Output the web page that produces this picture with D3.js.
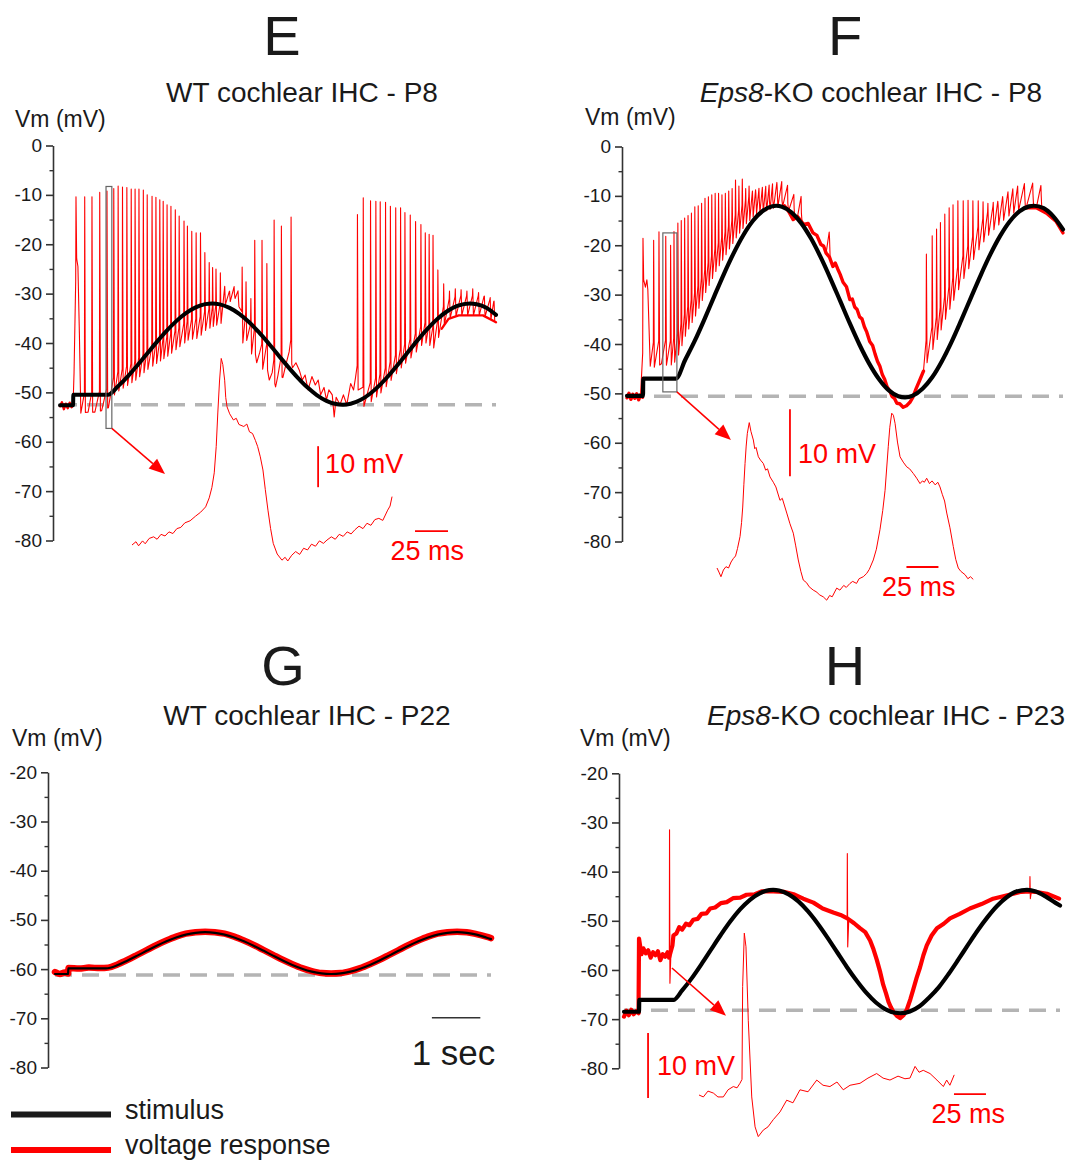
<!DOCTYPE html>
<html><head><meta charset="utf-8">
<script src="https://cdn.jsdelivr.net/npm/d3@7"></script>
<style>
body{margin:0;background:#fff}
svg{display:block}
text{font-family:"Liberation Sans",Arial,Helvetica,sans-serif}
</style>
</head><body>
<svg id="chart" width="1072" height="1160"></svg>
<script>
// ---------------- DATA ----------------
const panelLetters = ["E","F","G","H"];
const panelTitles = [
  ["", "WT cochlear IHC - P8"],
  ["Eps8", "-KO cochlear IHC - P8"],
  ["", "WT cochlear IHC - P22"],
  ["Eps8", "-KO cochlear IHC - P23"]
];
const yLabel = "Vm (mV)";
const ticksP8 = [0,-10,-20,-30,-40,-50,-60,-70,-80];
const minorP8 = [-5,-15,-25,-35,-45,-55,-65,-75];
const ticksAdult = [-20,-30,-40,-50,-60,-70,-80];
const minorAdult = [-25,-35,-45,-55,-65,-75];
const baselineV = [-52.5,-50.6,-61.2,-68.2];   // dashed resting lines (mV)
const timeSpan = [0, 9];                        // s

// stimulus (black) [time s, mV]
const stimE = [[0,-52.6],[0.27,-52.6],[0.275,-50.5],[0.99,-50.5],[1.2,-48.74],[1.4,-46.75],[1.6,-44.5],[1.8,-42.13],[2.0,-39.77],[2.2,-37.55],[2.4,-35.57],[2.6,-33.96],[2.8,-32.79],[3.0,-32.13],[3.14,-32.0],[3.3,-32.17],[3.5,-32.89],[3.7,-34.1],[3.9,-35.75],[4.1,-37.76],[4.3,-40.01],[4.5,-42.37],[4.7,-44.73],[4.9,-46.95],[5.1,-48.93],[5.3,-50.54],[5.5,-51.71],[5.7,-52.37],[5.84,-52.5],[6.0,-52.31],[6.2,-51.56],[6.4,-50.28],[6.6,-48.53],[6.8,-46.43],[7.0,-44.09],[7.2,-41.64],[7.4,-39.22],[7.6,-37.0],[7.8,-35.05],[8.0,-33.52],[8.2,-32.49],[8.46,-32.0],[8.6,-32.14],[8.8,-32.84],[9.0,-34.3]];
const stimF = [[0,-50.5],[0.33,-50.5],[0.335,-47.0],[1.01,-47.0],[1.2,-43.25],[1.4,-39.33],[1.6,-34.95],[1.8,-30.35],[2.0,-25.83],[2.2,-21.64],[2.4,-17.97],[2.6,-15.05],[2.8,-13.07],[3.0,-12.1],[3.08,-12.0],[3.2,-12.19],[3.4,-13.38],[3.6,-15.57],[3.8,-18.65],[4.0,-22.46],[4.2,-26.74],[4.4,-31.28],[4.6,-35.84],[4.8,-40.15],[5.0,-43.97],[5.2,-47.09],[5.4,-49.35],[5.6,-50.57],[5.74,-50.8],[5.9,-50.45],[6.1,-49.05],[6.3,-46.73],[6.5,-43.47],[6.7,-39.55],[6.9,-35.16],[7.1,-30.6],[7.3,-26.08],[7.5,-21.85],[7.7,-18.15],[7.9,-15.18],[8.1,-13.13],[8.3,-12.12],[8.4,-12.0],[8.6,-12.5],[8.8,-14.15],[9.0,-16.8]];
const stimG = [[0,-61.0],[0.27,-61.0],[0.275,-59.85],[1.05,-59.85],[1.3,-59.16],[1.5,-58.25],[1.7,-57.26],[1.9,-56.24],[2.1,-55.25],[2.3,-54.34],[2.5,-53.57],[2.7,-52.98],[2.9,-52.62],[3.1,-52.5],[3.3,-52.62],[3.5,-52.98],[3.7,-53.57],[3.9,-54.34],[4.1,-55.25],[4.3,-56.24],[4.5,-57.26],[4.7,-58.25],[4.9,-59.16],[5.1,-59.93],[5.3,-60.52],[5.5,-60.88],[5.7,-61.0],[5.9,-60.88],[6.1,-60.52],[6.3,-59.93],[6.5,-59.16],[6.7,-58.25],[6.9,-57.26],[7.1,-56.24],[7.3,-55.25],[7.5,-54.34],[7.7,-53.57],[7.9,-52.98],[8.1,-52.62],[8.3,-52.5],[8.5,-52.62],[8.7,-52.98],[8.9,-53.57],[9.0,-53.9]];
const stimH = [[0,-68.5],[0.31,-68.5],[0.315,-66.1],[1.02,-66.1],[1.2,-64.16],[1.4,-61.66],[1.6,-58.8],[1.8,-55.8],[2.0,-52.84],[2.2,-50.06],[2.4,-47.64],[2.6,-45.72],[2.8,-44.4],[3.0,-43.76],[3.08,-43.7],[3.2,-43.83],[3.4,-44.62],[3.6,-46.06],[3.8,-48.09],[4.0,-50.59],[4.2,-53.41],[4.4,-56.4],[4.6,-59.39],[4.8,-62.16],[5.0,-64.63],[5.2,-66.62],[5.4,-68.0],[5.6,-68.71],[5.7,-68.8],[5.9,-68.45],[6.1,-67.38],[6.3,-65.6],[6.5,-63.48],[6.7,-60.82],[6.9,-57.91],[7.1,-54.91],[7.3,-51.98],[7.5,-49.31],[7.7,-46.99],[7.9,-45.21],[8.1,-44.04],[8.32,-43.7],[8.5,-44.03],[8.7,-45.04],[8.9,-46.3],[9.0,-46.9]];

// voltage response (red): inter-spike floor [s, mV] and spikes [s, peak mV]
const floorE = [[0.00,-52.8],[0.04,-52.0],[0.08,-53.4],[0.12,-52.3],[0.16,-53.2],[0.20,-52.1],[0.24,-53.0],[0.27,-52.4],[0.29,-46.0],[0.345,-22.5],[0.37,-24.5],[0.40,-38.0],[0.43,-54.2],[0.58,-54.0],[0.72,-54.0],[0.86,-53.7],[1.00,-53.1],[1.14,-50.2],[1.36,-48.8],[1.57,-47.5],[1.79,-45.5],[2.00,-44.1],[2.22,-42.7],[2.43,-41.1],[2.65,-39.4],[2.86,-39.0],[3.01,-37.4],[3.15,-36.7],[3.33,-36.0],[3.43,-31.5],[3.48,-35.0],[3.52,-31.0],[3.57,-34.5],[3.62,-30.5],[3.66,-34.0],[3.71,-32.0],[3.74,-36.0],[3.78,-40.7],[3.82,-36.5],[3.86,-40.0],[3.90,-36.5],[3.97,-43.9],[4.00,-40.0],[4.06,-44.0],[4.12,-42.0],[4.19,-45.6],[4.24,-43.0],[4.32,-47.5],[4.38,-46.0],[4.45,-48.9],[4.50,-46.5],[4.60,-47.0],[4.66,-44.5],[4.73,-41.8],[4.80,-45.0],[4.87,-44.0],[4.94,-45.5],[5.00,-47.5],[5.06,-46.5],[5.12,-49.5],[5.20,-46.8],[5.27,-48.5],[5.33,-47.5],[5.38,-50.5],[5.45,-49.0],[5.50,-51.5],[5.55,-49.5],[5.62,-50.5],[5.66,-55.0],[5.70,-51.0],[5.78,-52.5],[5.85,-50.5],[5.92,-52.5],[6.00,-48.2],[6.06,-49.5],[6.10,-47.0],[6.23,-53.1],[6.44,-51.8],[6.66,-49.8],[6.87,-47.1],[7.09,-44.5],[7.30,-42.5],[7.52,-39.8],[7.73,-41.1],[7.88,-37.1],[8.02,-35.1],[8.23,-34.4],[8.45,-34.4],[8.73,-34.4],[9.00,-35.8]];
const spikesE = [[0.33,-10.4],[0.51,-10.4],[0.66,-10.4],[0.82,-9.5],[0.97,-9.2],[1.11,-8.7],[1.20,-8.2],[1.29,-8.4],[1.38,-8.5],[1.47,-8.8],[1.55,-8.8],[1.63,-8.8],[1.72,-9.0],[1.80,-10.0],[1.90,-10.3],[1.98,-10.5],[2.06,-11.0],[2.13,-11.3],[2.21,-12.0],[2.29,-12.3],[2.38,-13.0],[2.46,-14.3],[2.56,-15.3],[2.63,-16.3],[2.72,-17.4],[2.81,-17.7],[2.90,-17.7],[2.99,-21.7],[3.08,-23.7],[3.15,-24.7],[3.22,-25.0],[3.31,-25.8],[3.40,-28.5],[3.50,-29.5],[3.60,-30.0],[3.68,-30.5],[3.76,-24.6],[3.84,-27.6],[3.94,-31.0],[4.02,-19.2],[4.17,-19.2],[4.27,-23.9],[4.42,-15.1],[4.57,-16.3],[4.77,-14.5],[6.14,-14.0],[6.26,-10.6],[6.41,-11.2],[6.52,-11.3],[6.61,-11.4],[6.72,-11.5],[6.82,-12.3],[6.93,-12.6],[7.03,-12.6],[7.12,-13.6],[7.23,-14.1],[7.34,-15.4],[7.45,-16.0],[7.54,-17.7],[7.62,-18.0],[7.70,-18.2],[7.80,-25.2],[7.92,-28.0],[8.04,-29.5],[8.16,-29.0],[8.28,-29.2],[8.40,-29.5],[8.52,-29.0],[8.64,-29.8],[8.76,-30.5],[8.88,-30.8],[8.96,-31.5]];
const floorF = [[0.00,-50.9],[0.04,-50.0],[0.08,-51.2],[0.12,-50.2],[0.16,-51.0],[0.20,-50.1],[0.24,-51.3],[0.28,-50.3],[0.32,-50.8],[0.345,-26.0],[0.38,-28.5],[0.41,-27.0],[0.43,-29.0],[0.48,-44.5],[0.60,-44.8],[0.71,-44.0],[0.88,-44.5],[1.02,-43.4],[1.22,-38.0],[1.43,-34.0],[1.64,-29.2],[1.84,-25.2],[2.05,-21.8],[2.26,-18.4],[2.46,-15.7],[2.67,-13.6],[2.88,-13.0],[3.08,-12.3],[3.25,-12.0],[3.34,-13.2],[3.43,-14.8],[3.52,-14.2],[3.65,-15.8],[3.74,-15.6],[3.84,-17.5],[3.92,-18.0],[4.00,-19.8],[4.06,-20.2],[4.11,-21.6],[4.18,-22.4],[4.25,-24.3],[4.30,-23.6],[4.35,-24.8],[4.40,-25.9],[4.46,-27.5],[4.53,-28.4],[4.60,-31.0],[4.65,-30.9],[4.70,-32.5],[4.75,-33.0],[4.80,-34.5],[4.85,-34.9],[4.90,-36.5],[4.95,-37.6],[5.01,-39.5],[5.07,-40.3],[5.12,-42.0],[5.17,-43.5],[5.22,-44.5],[5.27,-46.2],[5.32,-47.2],[5.37,-48.7],[5.42,-49.4],[5.47,-50.6],[5.52,-51.0],[5.57,-52.0],[5.63,-52.1],[5.70,-52.8],[5.77,-52.5],[5.84,-51.8],[5.90,-50.8],[5.97,-49.0],[6.04,-47.4],[6.12,-45.5],[6.18,-44.1],[6.39,-39.4],[6.59,-34.6],[6.80,-29.9],[7.00,-25.8],[7.21,-21.8],[7.42,-18.4],[7.62,-16.4],[7.83,-14.4],[8.04,-13.1],[8.24,-12.4],[8.45,-12.4],[8.66,-13.5],[8.86,-15.2],[9.00,-17.5]];
const spikesF = [[0.33,-18.6],[0.55,-19.0],[0.66,-17.3],[0.80,-18.2],[0.90,-20.0],[0.97,-17.2],[1.05,-15.5],[1.12,-15.0],[1.19,-14.5],[1.26,-14.0],[1.33,-13.5],[1.40,-12.2],[1.47,-12.0],[1.54,-11.5],[1.61,-10.5],[1.68,-10.2],[1.75,-9.8],[1.82,-9.5],[1.89,-9.5],[1.96,-9.8],[2.03,-9.5],[2.10,-9.0],[2.17,-8.5],[2.24,-6.8],[2.31,-8.0],[2.38,-6.6],[2.45,-8.5],[2.52,-8.0],[2.59,-9.0],[2.66,-9.5],[2.73,-10.6],[2.80,-10.4],[2.87,-10.8],[2.94,-11.0],[3.01,-10.8],[3.10,-8.3],[3.20,-11.0],[3.32,-11.5],[3.45,-12.5],[3.60,-13.5],[4.18,-18.5],[6.18,-21.8],[6.30,-18.1],[6.39,-16.7],[6.47,-15.4],[6.56,-13.7],[6.65,-12.4],[6.73,-11.8],[6.83,-11.0],[6.94,-11.0],[7.04,-10.9],[7.14,-11.0],[7.25,-11.0],[7.35,-11.2],[7.45,-11.5],[7.56,-11.3],[7.66,-11.8],[7.76,-11.0],[7.87,-10.5],[7.97,-10.2],[8.07,-10.0],[8.21,-9.8],[8.38,-9.5],[8.55,-9.8]];
const respG = [[0,-60.6],[0.1,-61.0],[0.2,-60.7],[0.27,-60.9],[0.28,-59.8],[0.5,-59.9],[0.7,-59.7],[0.93,-59.8],[1.1,-59.7],[1.3,-59.0],[1.5,-58.1],[1.7,-57.1],[1.9,-56.1],[2.1,-55.1],[2.3,-54.2],[2.5,-53.4],[2.7,-52.8],[2.9,-52.5],[3.1,-52.4],[3.3,-52.5],[3.5,-52.8],[3.7,-53.4],[3.9,-54.2],[4.1,-55.1],[4.3,-56.1],[4.5,-57.1],[4.7,-58.1],[4.9,-59.0],[5.1,-59.8],[5.3,-60.4],[5.5,-60.8],[5.7,-60.9],[5.9,-60.8],[6.1,-60.4],[6.3,-59.8],[6.5,-59.0],[6.7,-58.1],[6.9,-57.1],[7.1,-56.1],[7.3,-55.1],[7.5,-54.2],[7.7,-53.4],[7.9,-52.8],[8.1,-52.5],[8.3,-52.4],[8.5,-52.5],[8.7,-52.9],[8.9,-53.4],[9.0,-53.7]];
const respH = [[0,-69.5],[0.05,-68.3],[0.10,-69.2],[0.15,-68.1],[0.20,-69.0],[0.25,-68.4],[0.30,-68.8],[0.31,-53.6],[0.36,-56.8],[0.40,-55.6],[0.45,-56.6],[0.50,-56.0],[0.55,-57.5],[0.60,-56.4],[0.65,-57.0],[0.70,-56.2],[0.75,-58.0],[0.80,-56.8],[0.85,-57.3],[0.90,-56.4],[0.93,-57.5],[1.00,-55.0],[1.02,-53.0],[1.08,-52.6],[1.14,-51.3],[1.20,-51.8],[1.28,-50.6],[1.35,-50.9],[1.43,-49.8],[1.52,-49.6],[1.60,-48.6],[1.70,-48.5],[1.78,-47.5],[1.88,-47.3],[2.00,-46.4],[2.12,-46.2],[2.25,-45.4],[2.40,-45.3],[2.53,-44.7],[2.70,-44.6],[2.85,-44.0],[3.08,-44.0],[3.30,-44.1],[3.50,-44.6],[3.70,-45.5],[3.91,-46.3],[4.10,-47.5],[4.32,-48.3],[4.47,-48.8],[4.61,-49.5],[4.75,-50.5],[4.87,-51.5],[4.98,-52.3],[5.08,-54.0],[5.15,-55.8],[5.22,-58.0],[5.29,-60.5],[5.35,-63.0],[5.41,-64.8],[5.46,-66.5],[5.51,-67.6],[5.56,-68.5],[5.63,-69.3],[5.70,-69.8],[5.77,-69.2],[5.84,-68.0],[5.91,-66.0],[5.97,-64.0],[6.04,-61.6],[6.11,-59.5],[6.18,-57.0],[6.25,-55.0],[6.35,-53.0],[6.46,-51.5],[6.60,-50.6],[6.73,-49.5],[6.93,-48.6],[7.14,-47.5],[7.38,-46.6],[7.62,-45.5],[7.83,-45.0],[8.04,-44.5],[8.20,-44.1],[8.38,-44.0],[8.55,-44.2],[8.73,-44.5],[8.98,-45.5]];
const spikesH = [[0.94,-31.5,-62.7],[4.61,-36.3,-55.3],[8.38,-41.0,-45.5]]; // [s, peak, undershoot]

// insets: single action potentials [ms, mV relative]
const apE = [[0,0],[3,0.8],[5,-0.2],[8,1.0],[10,0.3],[13,1.6],[16.4,2.0],[19,1.4],[22,2.6],[25,2.2],[28,3.2],[31,2.8],[34,4.0],[37,4.3],[40,5.4],[44,5.9],[48,7.0],[52,8.0],[55.8,9.3],[58.5,11.5],[60.5,14],[62.3,17.6],[63.8,24],[65,32.2],[66.3,40],[67.6,45.5],[68.8,44],[70.2,40.2],[71,36],[72,33.7],[74,32],[76.8,30.5],[79,30.9],[81,29.4],[84.7,28.9],[87,29.5],[89,27.6],[91.3,27.2],[93.5,25.5],[95.2,24.0],[97.2,21.5],[99.2,18.3],[101,13.5],[103,8.5],[105,4],[107,0.4],[110,-2.2],[113.6,-3.7],[116,-3.0],[118,-3.9],[121,-2.5],[124,-1.6],[127,-2.3],[130,-0.8],[133,-1.2],[136,0.2],[139,-0.3],[142,1.0],[145,0.4],[147.7,1.2],[151,2.0],[154,1.4],[157,2.6],[160,2.1],[163,3.2],[166,2.7],[168.8,3.7],[172,4.6],[175,4.0],[178,5.3],[181,4.8],[184,6.2],[187,6.5],[190,6.0],[193.7,8.5],[195.5,9.5],[197,11.8]];
const apF = [[0,0],[1.5,-0.6],[3.1,-1.3],[5.0,-0.3],[7,0.2],[9,0.0],[11,0.9],[12.7,1.4],[14.5,1.8],[16,2.9],[18,4.7],[19.2,6.8],[20.1,9.1],[21.0,12.5],[21.9,15.6],[22.8,18.2],[23.7,20.1],[25.2,21.7],[26.5,20.4],[28.4,19.1],[29.5,17.8],[30.5,18.0],[32.3,16.6],[34,16.1],[36.2,15.6],[38,14.6],[39.5,14.8],[41.4,13.6],[44,12.8],[46,12.1],[49.2,10.1],[51,10.4],[54.5,8.2],[57,6.6],[59.6,5.2],[61.5,3.3],[63.5,1.2],[65.5,-0.5],[67.4,-1.8],[70,-2.2],[72,-2.8],[75.2,-3.3],[78,-3.6],[80,-4.0],[83,-4.3],[85.7,-4.8],[88,-4.1],[90,-4.3],[93.5,-3.0],[96,-3.3],[99,-2.6],[101,-2.9],[103.9,-2.3],[106,-2.0],[109,-2.3],[111,-1.6],[114.3,-1.3],[117,-0.8],[119,-0.2],[122.1,1.2],[124.5,2.8],[127.3,5.7],[129.5,8.6],[131.3,11.6],[133.8,18.1],[135,21.0],[136.5,23.1],[137.8,22.8],[139.1,21.6],[141,18.8],[143,16.6],[145.5,15.8],[148.2,15.1],[150.5,14.8],[153.4,14.1],[156,13.4],[158.6,12.6],[160.5,13.0],[162,12.8],[163.8,13.4],[166,12.6],[168,13.0],[170.5,12.4],[172.5,12.8],[174.2,12.1],[176,11.0],[177.8,10.0],[179.5,8.2],[182,6.0],[184.6,3.2],[186.5,1.3],[188.5,0],[190.5,-0.5],[193.8,-1.0],[196,-1.6],[198,-1.3],[200.2,-1.7]];
const apH = [[0,0],[3.4,-0.3],[7,0.6],[11.2,0.3],[14.8,-0.3],[19,-0.3],[22.7,0.8],[26.8,1.3],[29.7,1.1],[32,1.8],[33.6,2.4],[34.1,16.7],[35.4,24.9],[36.7,22.8],[38.5,11.5],[41.2,-0.3],[43.8,-4.9],[46.3,-6.4],[50.2,-5.4],[53.9,-4.9],[58,-3.8],[63.3,-2.6],[68.5,-0.8],[73.4,-1.2],[78.9,0.8],[85.2,0.5],[92,2.3],[96.9,1.5],[102.3,1.3],[107.8,2.0],[112.7,0.8],[118,1.5],[125.8,1.8],[132,2.6],[138.8,3.3],[143.8,2.6],[149.2,2.3],[155.5,2.9],[160.9,2.5],[164.8,2.6],[168.8,4.4],[171.9,3.5],[175.2,3.8],[180.5,3.3],[185.9,2.3],[190.9,1.3],[193.5,2.3],[196,1.5],[199.4,3.1]];

const scaleBarMv = 10, scaleBarMs = 25, scaleBarSec = 1;
const legendItems = ["stimulus", "voltage response"];

// ---------------- LAYOUT ----------------
const RED = "#ff0000", INK = "#1a1a1a", AXIS = "#333";
const svg = d3.select("#chart");

const panels = [
  {axisX:53,  x0:60,  yTop:145.5, yBot:540.5, vmax:0,   ticks:ticksP8, minor:minorP8, letter:[282,55], title:[302,102], ylab:[15,127]},
  {axisX:622, x0:627, yTop:146.5, yBot:541.5, vmax:0,   ticks:ticksP8, minor:minorP8, letter:[845,55], title:[871,102], ylab:[585,125]},
  {axisX:48,  x0:55,  yTop:772.3, yBot:1067.5, vmax:-20, ticks:ticksAdult, minor:minorAdult, letter:[283,685], title:[307,725], ylab:[12,746]},
  {axisX:619, x0:624, yTop:773.3, yBot:1068.3, vmax:-20, ticks:ticksAdult, minor:minorAdult, letter:[845,685], title:[886,725], ylab:[580,746]}
];
panels.forEach(p => {
  p.x = d3.scaleLinear().domain(timeSpan).range([p.x0, p.x0 + 436]);
  p.y = d3.scaleLinear().domain([-80, p.vmax]).range([p.yBot, p.yTop]);
});

function interp(arr, t){
  if (t <= arr[0][0]) return arr[0][1];
  for (let i = 1; i < arr.length; i++){
    if (t <= arr[i][0]){
      const [t0,v0] = arr[i-1], [t1,v1] = arr[i];
      return v0 + (v1 - v0) * (t - t0) / (t1 - t0);
    }
  }
  return arr[arr.length-1][1];
}
function buildSpiking(floor, spikes, rise){
  const st = spikes.map(d => d[0]);
  const pts = [];
  floor.forEach(([t,v]) => {
    if (st.some(s => Math.abs(s - t) < 0.02)) return;
    let prev, next;
    st.forEach(s => { if (s <= t) prev = s; if (s > t && next === undefined) next = s; });
    if (prev !== undefined && next !== undefined && next - prev < 0.14) return;
    pts.push([t, v]);
  });
  spikes.forEach(([t,p]) => {
    pts.push([t - 0.006, interp(floor, t - 0.006) + rise]);
    pts.push([t, p]);
    pts.push([t + 0.014, interp(floor, t + 0.014)]);
  });
  pts.sort((a,b) => a[0] - b[0]);
  return pts;
}

// ---------------- TEXT: letters, titles, y labels ----------------
panels.forEach((p,i) => {
  svg.append("text").attr("x", p.letter[0]).attr("y", p.letter[1])
    .attr("text-anchor","middle").attr("font-size",56).attr("fill",INK).text(panelLetters[i]);
  const t = svg.append("text").attr("x", p.title[0]).attr("y", p.title[1])
    .attr("text-anchor","middle").attr("font-size",28).attr("fill",INK);
  if (panelTitles[i][0]) t.append("tspan").attr("font-style","italic").text(panelTitles[i][0]);
  t.append("tspan").text(panelTitles[i][1]);
  svg.append("text").attr("x", p.ylab[0]).attr("y", p.ylab[1])
    .attr("font-size",23).attr("fill",INK).text(yLabel);
});

// ---------------- AXES ----------------
panels.forEach(p => {
  const g = svg.append("g").attr("transform", `translate(${p.axisX},0)`);
  g.call(d3.axisLeft(p.y).tickValues(p.ticks).tickSize(7).tickSizeOuter(0).tickPadding(4).tickFormat(d => String(d)));
  g.select(".domain").attr("stroke", AXIS).attr("stroke-width", 1.6);
  g.selectAll(".tick line").attr("stroke", AXIS).attr("stroke-width", 1.6);
  g.selectAll(".tick text").attr("font-size", 19).attr("fill", INK)
    .attr("font-family", '"Liberation Sans",Arial,sans-serif');
  const gm = svg.append("g").attr("transform", `translate(${p.axisX},0)`);
  gm.call(d3.axisLeft(p.y).tickValues(p.minor).tickSize(3.5).tickSizeOuter(0).tickFormat(""));
  gm.select(".domain").remove();
  gm.selectAll(".tick line").attr("stroke", AXIS).attr("stroke-width", 1.4);
});

// ---------------- DASHED BASELINES ----------------
panels.forEach((p,i) => {
  svg.append("line").attr("x1", p.x(timeSpan[0])).attr("x2", p.x(timeSpan[1]))
    .attr("y1", p.y(baselineV[i])).attr("y2", p.y(baselineV[i]))
    .attr("stroke", "#b4b4b4").attr("stroke-width", 3.5).attr("stroke-dasharray", "17,10");
});

// ---------------- TRACES ----------------
function lineFor(p, curve){ return d3.line().x(d => p.x(d[0])).y(d => p.y(d[1])).curve(curve || d3.curveLinear); }
function path(p, data, color, width, curve){
  svg.append("path").attr("d", lineFor(p, curve)(data)).attr("fill","none")
    .attr("stroke", color).attr("stroke-width", width)
    .attr("stroke-linejoin","round").attr("stroke-linecap","round");
}
const bandRanges = [[[0,0.28],[7.85,9.0]], [[0,0.33],[3.1,6.15],[8.1,9.0]]];

// E
{
  const p = panels[0];
  bandRanges[0].forEach(([a,b]) => path(p, floorE.filter(d => d[0] >= a && d[0] <= b), RED, 2.4));
  path(p, buildSpiking(floorE, spikesE, 4), RED, 1.1);
  path(p, stimE, "#000", 4, d3.curveMonotoneX);
}
// F
{
  const p = panels[1];
  bandRanges[1].forEach(([a,b]) => path(p, floorF.filter(d => d[0] >= a && d[0] <= b), RED, 3.4));
  path(p, buildSpiking(floorF, spikesF, 5), RED, 1.1);
  path(p, stimF, "#000", 4.2, d3.curveMonotoneX);
}
// G
{
  const p = panels[2];
  path(p, respG, RED, 6.5, d3.curveMonotoneX);
  path(p, stimG, "#000", 2.2, d3.curveMonotoneX);
}
// H
{
  const p = panels[3];
  path(p, respH, RED, 4.2);
  spikesH.forEach(([t, pk, lo]) => {
    const b = interp(respH, t);
    path(p, [[t-0.004, b],[t, pk],[t+0.008, lo],[t+0.03, interp(respH, t+0.03)]], RED, 1.1);
  });
  path(p, stimH, "#000", 4.2, d3.curveMonotoneX);
}

// ---------------- SOURCE BOXES ----------------
const boxes = [{panel:0, t:[0.95,1.07], v:[-8.3,-57.3]}, {panel:1, t:[0.74,1.03], v:[-17.5,-49.7]}];
boxes.forEach(b => {
  const p = panels[b.panel];
  svg.append("rect").attr("x", p.x(b.t[0])).attr("y", p.y(b.v[0]))
    .attr("width", p.x(b.t[1]) - p.x(b.t[0])).attr("height", p.y(b.v[1]) - p.y(b.v[0]))
    .attr("fill","none").attr("stroke","#666").attr("stroke-width",1.2);
});

// ---------------- INSETS ----------------
const insets = [
  {panel:0, data:apE, ox:132, oy:545,  msPx:1.32, mvPx:4.1,
   mvBar:[141,14.1], msBar:[214.4,3.4], mvText:[7,6], msText:[16,29],
   arrowFrom:[1.07,-57.3], arrowTo:[25,17.3]},
  {panel:1, data:apF, ox:717, oy:568,  msPx:1.28, mvPx:6.7,
   mvBar:[57,13.7], msBar:[148,0.15], mvText:[8,20], msText:[17,29],
   arrowFrom:[1.03,-49.7], arrowTo:[10.9,19.1]},
  {panel:3, data:apH, ox:699, oy:1095, msPx:1.28, mvPx:6.5,
   mvBar:[-39.8,-0.46], msBar:[199.2,0.15], mvText:[9,10], msText:[19,29],
   arrowFrom:[0.99,-59.6], arrowTo:[21.1,12.2]}
];
insets.forEach(ins => {
  const xi = d3.scaleLinear().domain([0, 100]).range([ins.ox, ins.ox + 100*ins.msPx]);
  const yi = d3.scaleLinear().domain([0, 10]).range([ins.oy, ins.oy - 10*ins.mvPx]);
  svg.append("path").attr("d", d3.line().x(d => xi(d[0])).y(d => yi(d[1]))(ins.data))
    .attr("fill","none").attr("stroke", RED).attr("stroke-width",1).attr("stroke-linejoin","round");
  // 10 mV bar
  const bx = xi(ins.mvBar[0]), by0 = yi(ins.mvBar[1]), by1 = yi(ins.mvBar[1] + scaleBarMv);
  svg.append("line").attr("x1",bx).attr("x2",bx).attr("y1",by0).attr("y2",by1)
    .attr("stroke",RED).attr("stroke-width",1.8);
  svg.append("text").attr("x", bx + ins.mvText[0]).attr("y", (by0+by1)/2 + ins.mvText[1])
    .attr("font-size",27).attr("fill",RED).text("10 mV");
  // 25 ms bar
  const mx0 = xi(ins.msBar[0]), mx1 = xi(ins.msBar[0] + scaleBarMs), my = yi(ins.msBar[1]);
  svg.append("line").attr("x1",mx0).attr("x2",mx1).attr("y1",my).attr("y2",my)
    .attr("stroke",RED).attr("stroke-width",1.8);
  svg.append("text").attr("x", mx1 + ins.msText[0]).attr("y", my + ins.msText[1])
    .attr("text-anchor","end").attr("font-size",27).attr("fill",RED).text("25 ms");
  // arrow
  const p = panels[ins.panel];
  const ax0 = p.x(ins.arrowFrom[0]), ay0 = p.y(ins.arrowFrom[1]);
  const ax1 = xi(ins.arrowTo[0]), ay1 = yi(ins.arrowTo[1]);
  const ang = Math.atan2(ay1 - ay0, ax1 - ax0);
  const L = 16, Wd = 6.5;
  const bxp = ax1 - L*Math.cos(ang), byp = ay1 - L*Math.sin(ang);
  svg.append("line").attr("x1",ax0).attr("y1",ay0).attr("x2",bxp).attr("y2",byp)
    .attr("stroke",RED).attr("stroke-width",1.5);
  svg.append("path").attr("d", `M${ax1},${ay1}L${bxp + Wd*Math.sin(ang)},${byp - Wd*Math.cos(ang)}L${bxp - Wd*Math.sin(ang)},${byp + Wd*Math.cos(ang)}Z`)
    .attr("fill",RED);
});

// ---------------- 1 sec bar (G) ----------------
{
  const p = panels[2];
  const t0 = 7.78, v = -69.9;
  svg.append("line").attr("x1", p.x(t0)).attr("x2", p.x(t0 + scaleBarSec))
    .attr("y1", p.y(v)).attr("y2", p.y(v)).attr("stroke", AXIS).attr("stroke-width", 1.6);
  svg.append("text").attr("x", p.x(t0 + scaleBarSec) + 15).attr("y", p.y(v) + 47)
    .attr("text-anchor","end").attr("font-size",35).attr("fill",INK).text("1 sec");
}

// ---------------- LEGEND ----------------
const legendColors = [INK, RED];
legendItems.forEach((name, i) => {
  const y = 1114.5 + i*35.5;
  svg.append("line").attr("x1",11).attr("x2",111).attr("y1",y).attr("y2",y)
    .attr("stroke", legendColors[i]).attr("stroke-width", 6);
  svg.append("text").attr("x",125).attr("y", y + 4).attr("font-size",27).attr("fill",INK).text(name);
});
</script>
</body></html>
